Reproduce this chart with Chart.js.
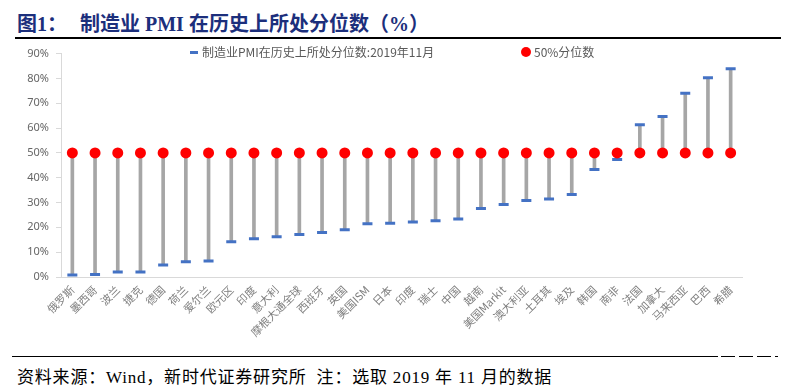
<!DOCTYPE html>
<html>
<head>
<meta charset="utf-8">
<script src="https://cdn.jsdelivr.net/npm/chart.js@4.4.1/dist/chart.umd.min.js"></script>
<style>
    body { margin: 0; width: 796px; height: 387px; background: #fff; position: relative; overflow: hidden; font-family: "Noto Sans CJK SC", sans-serif; }
    .title { position: absolute; top: 8px; left: 17px; height: 24px; line-height: 24px; font: bold 20px "Liberation Serif", "Noto Sans CJK SC", serif; color: #1c2f7c; white-space: nowrap; }
    .title .main { position: absolute; left: 63px; top: 0; }
    .rule-top { position: absolute; left: 15px; width: 766px; top: 37px; border-top: 2px solid #000; }
    .chart-box { position: absolute; left: 0; top: 40px; width: 796px; height: 305px; }
    .legend { position: absolute; top: 44px; font-size: 12px; line-height: 16px; color: #595959; white-space: nowrap; }
    .legend .dash { position: absolute; left: 190px; top: 7px; width: 8px; height: 3px; background: #4472C4; }
    .legend .dot { position: absolute; left: 521px; top: 3px; width: 10px; height: 10px; border-radius: 50%; background: #ff0000; }
    .legend .t1 { position: absolute; left: 202px; top: 0; }
    .legend .t2 { position: absolute; left: 534px; top: 0; }
    .rule-bottom { position: absolute; left: 12px; width: 706px; top: 356px; border-top: 1px solid #000; }
    .dashes { position: absolute; top: 356px; height: 1px; background: #000; }
    .source { position: absolute; left: 17px; top: 363px; font: 17px "Liberation Serif", "Noto Sans CJK SC", serif; letter-spacing: 0.8px; color: #000; white-space: nowrap; }
</style>
</head>
<body>
<div class="title">图1：<span class="main">制造业 PMI 在历史上所处分位数（%）</span></div>
<div class="rule-top"></div>
<div class="chart-box"><canvas id="pmiChart"></canvas></div>
<div class="legend">
    <div class="dash"></div><span class="t1">制造业PMI在历史上所处分位数:2019年11月</span>
    <div class="dot"></div><span class="t2">50%分位数</span>
</div>
<div class="rule-bottom"></div>
<div class="dashes" style="left:721px;width:14px"></div>
<div class="dashes" style="left:739px;width:14px"></div>
<div class="dashes" style="left:757px;width:14px"></div>
<div class="dashes" style="left:775px;width:3px"></div>
<div class="source">资料来源：Wind，新时代证券研究所&nbsp; 注：选取 2019 年 11 月的数据</div>

<script>
// categories (countries / regions)
const categories = ['俄罗斯','墨西哥','波兰','捷克','德国','荷兰','爱尔兰','欧元区','印度','意大利',
    '摩根大通全球','西班牙','英国','美国ISM','日本','印度','瑞士','中国','越南','美国Markit',
    '澳大利亚','土耳其','埃及','韩国','南非','法国','加拿大','马来西亚','巴西','希腊'];

// PMI percentile in history, Nov 2019 (%)
const pmiPercentile = [0.8, 1.0, 2.0, 2.0, 4.8, 6.1, 6.4, 14.2, 15.4, 16.2,
    17.1, 17.9, 19.0, 21.5, 21.7, 22.2, 22.7, 23.4, 27.6, 29.2,
    30.8, 31.4, 33.2, 43.3, 47.3, 61.3, 64.7, 74.0, 80.3, 83.9];

// 50% percentile reference
const median = [50, 50, 50, 50, 50, 50, 50, 50, 50, 50,
    50, 50, 50, 50, 50, 50, 50, 50, 50, 50,
    50, 50, 50, 50, 50, 50, 50, 50, 50, 50];

// y axis ticks (%)
const yTicks = [0, 10, 20, 30, 40, 50, 60, 70, 80, 90];

const stems = pmiPercentile.map((v, i) => [v, median[i]]);

new Chart(document.getElementById('pmiChart').getContext('2d'), {
    type: 'bar',
    data: {
        labels: categories,
        datasets: [
            {
                type: 'line',
                label: '50%分位数',
                data: median,
                showLine: false,
                pointStyle: 'circle',
                pointRadius: 5.5,
                pointBackgroundColor: '#ff0000',
                pointBorderColor: '#ff0000',
                pointBorderWidth: 0,
                order: 0
            },
            {
                type: 'line',
                label: '制造业PMI在历史上所处分位数:2019年11月',
                data: pmiPercentile,
                showLine: false,
                pointStyle: 'line',
                pointRadius: 5,
                pointBorderWidth: 3,
                pointBorderColor: '#4472C4',
                pointBackgroundColor: '#4472C4',
                order: 1
            },
            {
                label: 'stem',
                data: stems,
                backgroundColor: '#a6a6a6',
                barThickness: 3,
                order: 2
            }
        ]
    },
    options: {
        responsive: true,
        maintainAspectRatio: false,
        animation: false,
        layout: { padding: { top: 7, right: 54, left: 0, bottom: 0 } },
        plugins: {
            legend: { display: false },
            tooltip: { enabled: false }
        },
        scales: {
            x: {
                grid: { display: false, drawTicks: false },
                border: { display: true, color: '#d9d9d9' },
                ticks: {
                    autoSkip: false,
                    minRotation: 45,
                    maxRotation: 45,
                    padding: 6,
                    color: '#7f7f7f',
                    font: { family: 'Noto Sans CJK SC', size: 11 }
                },
                afterFit: (scale) => { scale.height = 68; }
            },
            y: {
                min: yTicks[0],
                max: yTicks[yTicks.length - 1],
                afterBuildTicks: (scale) => { scale.ticks = yTicks.map(v => ({ value: v })); },
                grid: { drawOnChartArea: false, tickLength: 5, color: '#d9d9d9' },
                border: { display: true, color: '#d9d9d9' },
                ticks: {
                    padding: 7,
                    color: '#666',
                    font: { family: 'Noto Sans', size: 11 },
                    callback: v => v + '%'
                },
                afterFit: (scale) => { scale.width = 61; }
            }
        }
    }
});
</script>
</body>
</html>
